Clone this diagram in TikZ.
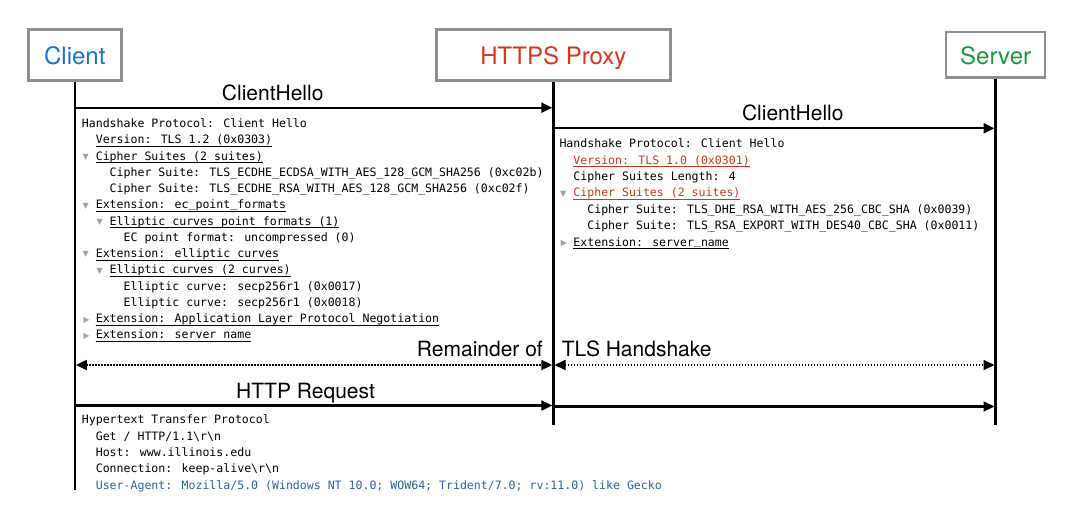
\documentclass[tikz,border=0pt]{standalone}
\usepackage{fontspec}
\usetikzlibrary{arrows.meta}
\newfontfamily\codefont{DejaVu Sans Mono}
\newfontfamily\labfont{TeX Gyre Heros}
\newfontfamily\symfont{DejaVu Sans}
\definecolor{boxgrey}{HTML}{8C8E92}
\definecolor{clientblue}{HTML}{1A72CC}
\definecolor{proxyred}{HTML}{D4361E}
\definecolor{servergreen}{HTML}{1A9A3C}
\definecolor{redtxt}{HTML}{CC361C}
\definecolor{uablue}{HTML}{2F5E9C}
\definecolor{trigrey}{HTML}{A2A2A2}
\newlength\cw
\setlength\cw{6.96pt}
\newcommand\codesz{\codefont\fontsize{11.56}{14}\selectfont}
\newcommand\ind[1]{\hspace*{#1\cw}}
\newcommand\tdn{\makebox[2\cw][l]{\hspace*{0.1\cw}\raisebox{0.6pt}{\symfont\fontsize{8}{9}\selectfont\textcolor{trigrey}{▼}}}}
\newcommand\trt{\makebox[2\cw][l]{\hspace*{0.2\cw}\raisebox{0.4pt}{\symfont\fontsize{8}{9}\selectfont\textcolor{trigrey}{▶}}}}
\newcommand\ul[1]{\setbox0\hbox{#1}\rlap{\rule[-2.8pt]{\wd0}{0.8pt}}\box0}
\newcommand\us{\raisebox{1.3pt}{\_}}
\tikzset{
  actor/.style={draw=boxgrey, line width=2.6pt, fill=white, inner sep=0pt,
    text height=20pt, text depth=0pt, font=\labfont\fontsize{24}{28}\selectfont},
  lifeline/.style={line width=2.3pt, black},
  msg/.style={line width=2.2pt, -{Triangle[length=11pt,width=10pt]}},
  dotmsg/.style={line width=2pt, dash pattern=on 1.4pt off 1.6pt,
    {Triangle[length=11pt,width=10pt]}-{Triangle[length=11pt,width=10pt]}},
  lbl/.style={font=\labfont\fontsize{21}{24}\selectfont, inner sep=0pt},
  code/.style={font=\codesz, inner sep=0pt, anchor=base west}
}
\begin{document}
\begin{tikzpicture}[x=1pt,y=-1pt]
\useasboundingbox (0,0) rectangle (1085,507);
% actors
\node[actor, minimum width=93.1pt, minimum height=51.1pt, text=clientblue] (client) at (74.8,54.85) {Client};
\node[actor, minimum width=233.8pt, minimum height=51.1pt, text=proxyred] (proxy) at (553.4,54.85) {HTTPS Proxy};
\node[actor, minimum width=99.1pt, minimum height=45.7pt, text=servergreen] (server) at (995.6,54.85) {Server};
% lifeline ends
\coordinate (cend) at (client.south |- 0,490);
\coordinate (pend) at (proxy.south |- 0,425);
\coordinate (send) at (server.south |- 0,425);
\draw[lifeline] (client.south) -- (cend);
\draw[lifeline] (proxy.south) -- (pend);
\draw[lifeline] (server.south) -- (send);
% message points
\coordinate (c1) at (client.south |- 0,107.7);
\coordinate (p1) at (proxy.south |- 0,107.7);
\coordinate (p2) at (proxy.south |- 0,128.3);
\coordinate (s2) at (server.south |- 0,128.3);
\coordinate (c3) at (client.south |- 0,365);
\coordinate (p3) at (proxy.south |- 0,365);
\coordinate (s3) at (server.south |- 0,365);
\coordinate (c4) at (client.south |- 0,405.5);
\coordinate (p4) at (proxy.south |- 0,405.5);
\coordinate (p5) at (proxy.south |- 0,406.5);
\coordinate (s5) at (server.south |- 0,406.5);
\draw[msg, shorten >=1.1pt] (c1) -- (p1);
\draw[msg, shorten >=1.1pt] (p2) -- (s2);
\draw[dotmsg, shorten <=1.1pt, shorten >=1.1pt] (c3) -- (p3);
\draw[dotmsg, shorten <=1.1pt, shorten >=1.1pt] (p3) -- (s3);
\draw[msg, shorten >=1.1pt] (c4) -- (p4);
\draw[msg, shorten >=1.1pt] (p5) -- (s5);
% labels
\node[lbl, anchor=base] (lch1) at (272.7,100) {ClientHello};
\node[lbl, anchor=base] (lch2) at (792.8,120.7) {ClientHello};
\node[lbl, anchor=base east] (lrem) at (543,356) {Remainder of};
\node[lbl, anchor=base west] (ltls) at (561.7,356) {TLS Handshake};
\node[lbl, anchor=base west] (lhttp) at (236,398.3) {HTTP Request};
% left ClientHello details
\node[code] (a0) at (81.7,127.5) {Handshake Protocol: Client Hello};
\node[code] (a1) at (81.7,143.75) {\ind{2}\ul{Version: TLS 1.2 (0x0303)}};
\node[code] (a2) at (81.7,160.0) {\tdn\ul{Cipher Suites (2 suites)}};
\node[code] (a3) at (81.7,176.25) {\ind{4}Cipher Suite: TLS\_ECDHE\_ECDSA\_WITH\_AES\_128\_GCM\_SHA256 (0xc02b)};
\node[code] (a4) at (81.7,192.5) {\ind{4}Cipher Suite: TLS\_ECDHE\_RSA\_WITH\_AES\_128\_GCM\_SHA256 (0xc02f)};
\node[code] (a5) at (81.7,208.75) {\tdn\ul{Extension: ec\us point\us formats}};
\node[code] (a6) at (81.7,225.0) {\ind{2}\tdn\ul{Elliptic curves point formats (1)}};
\node[code] (a7) at (81.7,241.25) {\ind{6}EC point format: uncompressed (0)};
\node[code] (a8) at (81.7,257.5) {\tdn\ul{Extension: elliptic curves}};
\node[code] (a9) at (81.7,273.75) {\ind{2}\tdn\ul{Elliptic curves (2 curves)}};
\node[code] (a10) at (81.7,290.0) {\ind{6}Elliptic curve: secp256r1 (0x0017)};
\node[code] (a11) at (81.7,306.25) {\ind{6}Elliptic curve: secp256r1 (0x0018)};
\node[code] (a12) at (81.7,322.5) {\trt\ul{Extension: Application Layer Protocol Negotiation}};
\node[code] (a13) at (81.7,338.75) {\trt\ul{Extension: server name}};
% right ClientHello details
\node[code] (b0) at (559.3,147.7) {Handshake Protocol: Client Hello};
\node[code] (b1) at (559.3,164.1) {\ind{2}{\color{redtxt}\ul{Version: TLS 1.0 (0x0301)}}};
\node[code] (b2) at (559.3,180.5) {\ind{2}Cipher Suites Length: 4};
\node[code] (b3) at (559.3,196.9) {\tdn{\color{redtxt}\ul{Cipher Suites (2 suites)}}};
\node[code] (b4) at (559.3,213.3) {\ind{4}Cipher Suite: TLS\_DHE\_RSA\_WITH\_AES\_256\_CBC\_SHA (0x0039)};
\node[code] (b5) at (559.3,229.7) {\ind{4}Cipher Suite: TLS\_RSA\_EXPORT\_WITH\_DES40\_CBC\_SHA (0x0011)};
\node[code] (b6) at (559.3,246.1) {\trt\ul{Extension: server\us name}};
% HTTP details
\node[code] (h0) at (81.7,423.7) {Hypertext Transfer Protocol};
\node[code] (h1) at (81.7,440.1) {\ind{2}Get / HTTP/1.1\textbackslash r\textbackslash n};
\node[code] (h2) at (81.7,456.5) {\ind{2}Host: www.illinois.edu};
\node[code] (h3) at (81.7,472.9) {\ind{2}Connection: keep-alive\textbackslash r\textbackslash n};
\node[code] (h4) at (81.7,489.3) {\ind{2}{\color{uablue}User-Agent: Mozilla/5.0 (Windows NT 10.0; WOW64; Trident/7.0; rv:11.0) like Gecko}};
\end{tikzpicture}
\end{document}
